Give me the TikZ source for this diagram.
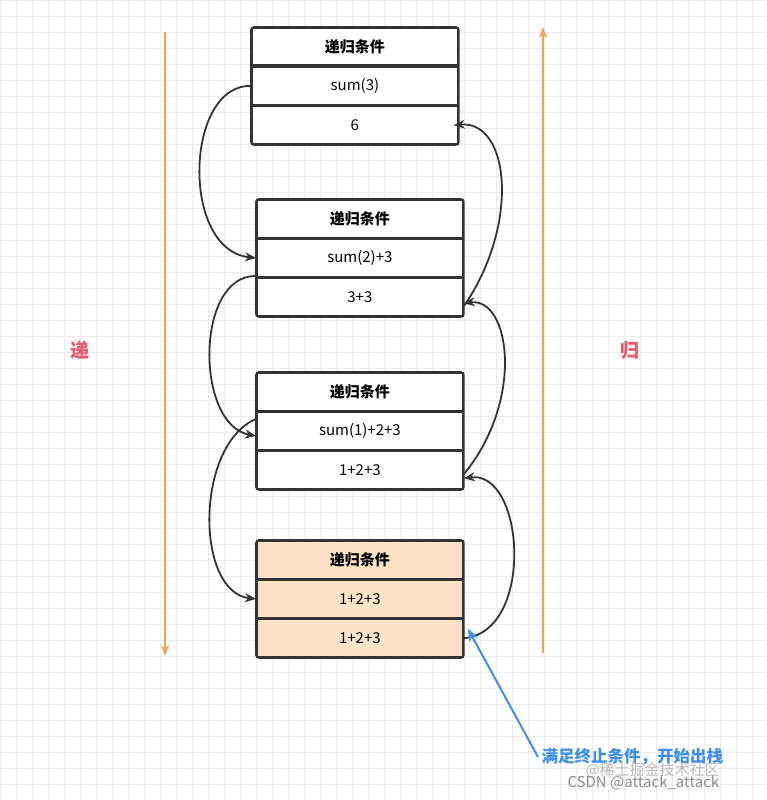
\documentclass[tikz,border=0pt]{standalone}
\usepackage{fontspec}
\setmainfont{Noto Sans CJK SC}
\usetikzlibrary{arrows.meta}
\definecolor{gridc}{HTML}{EBEBEB}
\definecolor{boxfill}{HTML}{FCE3C7}
\definecolor{orng}{HTML}{F2A257}
\definecolor{redt}{HTML}{F0576A}
\definecolor{bluet}{HTML}{3D8FEF}
\definecolor{lineg}{HTML}{333333}
\begin{document}
\begin{tikzpicture}[x=1pt,y=-1pt,
 cell/.style={draw=lineg,line width=1.8pt,minimum width=206pt,minimum height=37.5pt,inner sep=0pt,font=\fontsize{15}{18}\selectfont,anchor=north west},
 head/.style={cell,font=\fontsize{15}{18}\selectfont\bfseries},
 conn/.style={draw=lineg,line width=1.8pt,-{Stealth[length=11pt,width=9pt]}},
 axis/.style={draw=orng,line width=2pt,-{Stealth[length=11pt,width=8pt]}}]
\useasboundingbox (0,0) rectangle (766,800);
\fill[white] (0,0) rectangle (766,800);
\draw[gridc,line width=0.7pt] (0,0) grid[step=16pt] (766,800);
% boxes
\foreach \n/\x/\y/\a/\b/\f in {1/251/27/sum(3)/6/white, 2/256/199/sum(2)+3/3+3/white, 3/256/372/sum(1)+2+3/1+2+3/white, 4/256/540/1+2+3/1+2+3/boxfill}{
 \node[head,fill=\f] (h\n) at (\x,\y) {递归条件};
 \node[cell,fill=\f] (m\n) at (h\n.south west) {\a};
 \node[cell,fill=\f] (l\n) at (m\n.south west) {\b};
 \draw[lineg,line width=1.8pt,rounded corners=3pt] (h\n.north west) rectangle (l\n.south east);
}
% left arrows
\draw[conn] (m1.west) .. controls (185,84) and (180,250) .. (m2.west);
\draw[conn] ([yshift=-18pt]m2.west) .. controls (195,275) and (195,425) .. ([yshift=-5pt]m3.west);
\draw[conn] ([yshift=12pt]m3.west) .. controls (195,445) and (195,592) .. (m4.west);
% right arrows
\draw[conn] ([yshift=-9pt]l2.east) .. controls (520,225) and (510,120) .. ([xshift=-5pt]l1.east);
\draw[conn] ([yshift=-4pt]l3.east) .. controls (525,400) and (510,297) .. ([yshift=-6pt]l2.east);
\draw[conn] (l4.east) .. controls (535,632) and (525,470) .. ([yshift=-8pt]l3.east);
% axes
\coordinate (la) at (165,32); \coordinate (lb) at (165,656);
\coordinate (ra) at (543,653); \coordinate (rb) at (543,27);
\draw[axis] (la) -- (lb);
\draw[axis] (ra) -- (rb);
\node[text=redt,font=\fontsize{19}{22}\selectfont\bfseries] (t1) at (80,350) {递};
\node[text=redt,font=\fontsize{19}{22}\selectfont\bfseries] (t2) at (630,350) {归};
% note
\node[text=bluet,font=\fontsize{16.5}{19}\selectfont\bfseries,anchor=west] (note) at (538,757) {满足终止条件，开始出栈};
\draw[bluet,line width=2pt,-{Stealth[length=13pt,width=10pt]}] (note.west) -- ([xshift=4pt,yshift=-10pt]l4.north east);
\node[text=gray!55,font=\fontsize{15}{17}\selectfont,anchor=west] (wm1) at (582,770) {@稀土掘金技术社区};
\node[text=gray!90,font=\fontsize{15}{17}\selectfont,anchor=west] (wm2) at (564,783) {CSDN @attack\_attack};
\end{tikzpicture}
\end{document}
